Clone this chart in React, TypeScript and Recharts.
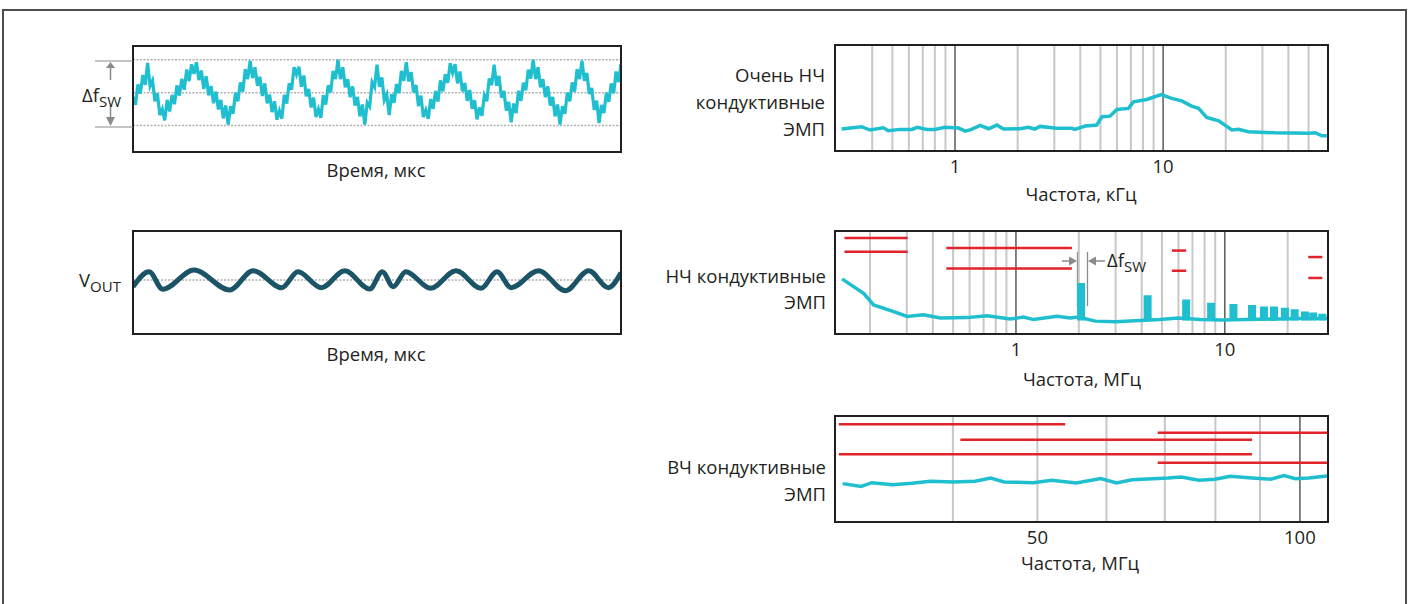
import React from "react";
import { ComposedChart, Line, XAxis, YAxis, ReferenceLine } from "recharts";

const FONT = "'Open Sans', sans-serif";
const INK = "#231f20";
const CYAN = "#1fbfcf";
const TEAL = "#1b5466";
const RED = "#e2232a";
const GRID = "#c8c8c8";
const GRID_DARK = "#5a5a5a";
const DIM = "#8a8a8a";
const FS = 18.5;

// top-left: switching frequency vs time (sampled every 0.5 time units)
const fswRipple = [
  -0.13, -0.37, 0.25, -0.03, 0.53, 0.24, 0.9, 0.2, 0.37, -0.26, -0.02, -0.68, -0.5, -0.84, -0.22, -0.57, -0.07, -0.35, 0.22, -0.09,
  0.42, 0.09, 0.7, 0.35, 0.86, 0.57, 0.92, 0.38, 0.67, 0.11, 0.5, -0.08, 0.2, -0.32, 0.03, -0.51, -0.22, -0.78, -0.39, -0.97,
  -0.41, -0.64, 0.0, -0.26, 0.31, 0.03, 0.71, 0.41, 0.97, 0.44, 0.77, 0.21, 0.48, -0.1, 0.28, -0.32, -0.06, -0.59, -0.26, -0.82,
  -0.55, -0.79, -0.07, -0.33, 0.28, 0.09, 0.77, 0.55, 0.79, 0.18, 0.52, -0.11, 0.11, -0.45, -0.15, -0.74, -0.5, -0.76, -0.08, -0.36,
  0.22, 0.01, 0.66, 0.41, 1.0, 0.41, 0.77, 0.16, 0.41, -0.14, 0.19, -0.39, -0.13, -0.72, -0.36, -0.97, -0.3, -0.42, 0.32, 0.17,
  0.85, 0.18, 0.46, -0.23, -0.06, -0.68, -0.05, -0.31, 0.26, -0.01, 0.66, 0.36, 0.92, 0.34, 0.62, 0.01, 0.23, -0.41, -0.09, -0.74,
  -0.53, -0.79, -0.2, -0.49, 0.05, -0.27, 0.37, 0.04, 0.56, 0.3, 0.89, 0.6, 0.86, 0.28, 0.64, 0.04, 0.29, -0.25, 0.08, -0.49,
  -0.23, -0.81, -0.45, -0.7, -0.08, -0.26, 0.43, 0.23, 0.85, 0.21, 0.51, -0.15, 0.05, -0.54, -0.28, -0.9, -0.33, -0.62, 0.05, -0.25,
  0.3, 0.07, 0.7, 0.43, 1.0, 0.41, 0.77, 0.16, 0.41, -0.14, 0.19, -0.39, -0.13, -0.72, -0.36, -0.97, -0.41, -0.64, 0.0, -0.26,
  0.31, 0.03, 0.71, 0.41, 0.97, 0.36, 0.6, -0.04, 0.14, -0.52, -0.24, -0.92, -0.37, -0.62, 0.0, -0.28, 0.28, -0.02, 0.64, 0.32,
  0.87,
];

// middle-left: output voltage ripple, extrema
const voutTimes = [0, 3.3, 6.1, 12.5, 19.8, 24.6, 30.5, 33.8, 38.6, 43.4, 48.5, 51.1, 53.3, 55.9, 61, 66.2, 71.3, 74.6, 77.5, 83.1, 88.6, 93.4, 97.4, 100];
const voutLevels = [-0.67, 0.83, -0.93, 1.0, -1.0, 0.93, -0.77, 0.83, -0.77, 0.93, -0.9, 0.83, -0.67, 0.83, -0.83, 0.93, -0.83, 0.83, -0.77, 0.93, -1.07, 0.93, -0.77, 0.73];

// top-right: very low frequency conducted EMI, kHz
const vlfFreqs = [0.285, 0.356, 0.39, 0.452, 0.478, 0.544, 0.62, 0.659, 0.731, 0.8, 0.895, 1.04, 1.12, 1.2, 1.32, 1.45, 1.59, 1.71, 2.05, 2.25, 2.42, 2.56, 3.08, 3.64, 3.77, 4.22, 4.8, 5.08, 5.56, 5.99, 6.81, 7.2, 8.35, 9.78, 11.0, 12.3, 13.7, 14.8, 16.2, 18.5, 21.4, 23.0, 25.7, 34.5, 50, 53.8, 58, 61.2];
const vlfLevels = [20.7, 22.9, 19.8, 21.9, 19.1, 20.4, 20.4, 22.3, 20.4, 20.4, 22.3, 21.6, 18.8, 20.4, 24.2, 21.0, 24.5, 20.7, 21.0, 22.3, 20.7, 23.2, 21.4, 21.4, 20.4, 23.5, 24.5, 32.3, 32.9, 39.2, 40.2, 46.4, 48.6, 53.3, 49.6, 47.3, 42.3, 40.2, 31.7, 28.5, 19.8, 20.4, 18.2, 17.2, 16.7, 17.2, 14.4, 14.4];
const vlfGrid = [0.4, 0.5, 0.6, 0.7, 0.8, 0.9, 2, 3, 4, 5, 6, 7, 8, 9, 20, 30, 40, 50];
const vlfDecades = [1, 10];

// middle-right: low frequency conducted EMI, MHz
const lfFreqs = [0.147, 0.187, 0.208, 0.26, 0.301, 0.361, 0.434, 0.583, 0.727, 0.939, 1.087, 1.214, 1.571, 1.819, 1.993, 2.395, 2.986, 3.933, 4.901, 5.977, 7.617, 9.707, 12.51, 17.41, 22.93, 30.87];
const lfLevels = [53.5, 39.2, 28.2, 21.8, 17.1, 18.7, 15.5, 15.9, 17.8, 14.5, 16.4, 14.0, 17.1, 15.5, 16.4, 12.5, 12.0, 13.0, 14.0, 15.5, 14.0, 13.5, 14.0, 14.5, 15.0, 15.0];
const lfSpikeFreqs = [2.05, 4.27, 6.53, 8.6, 11.0, 13.5, 15.4, 17.2, 19.4, 21.6, 24.2, 26.5, 29.3];
const lfSpikeTops = [49.4, 37.7, 33.5, 30.4, 29.2, 28.2, 26.6, 26.6, 25.6, 24.0, 21.8, 20.9, 19.7];
const lfSpikeBase = 13;
const lfLimitFrom = [0.151, 0.151, 0.464, 0.464, 5.58, 5.58, 25.1, 25.1];
const lfLimitTo = [0.303, 0.303, 1.853, 1.853, 6.53, 6.53, 29.3, 29.3];
const lfLimitLevel = [93.1, 79.8, 83.6, 63.6, 81.0, 61.4, 74.7, 54.4];
const lfGrid = [0.2, 0.3, 0.4, 0.5, 0.6, 0.7, 0.8, 0.9, 2, 3, 4, 5, 6, 7, 8, 9, 20];
const lfDecades = [1, 10];

// bottom-right: high frequency conducted EMI, MHz
const hfFreqs = [29.9, 31.4, 32.3, 34.1, 35.9, 37.7, 40.0, 42.4, 44.2, 45.8, 49.5, 51.9, 55.4, 59.1, 61.6, 64.2, 70.6, 73.1, 76.6, 79.9, 83.2, 87.3, 92.6, 95.9, 98.8, 102.4, 107.4];
const hfLevels = [36.2, 33.6, 37.1, 35.2, 36.5, 38.4, 37.7, 38.4, 41.5, 37.7, 37.1, 39.3, 36.8, 40.9, 36.8, 39.9, 41.5, 42.5, 39.3, 40.3, 43.1, 41.8, 40.3, 43.7, 40.9, 41.5, 43.4];
const hfLimitFrom = [29.6, 68.7, 40.8, 29.6, 68.7];
const hfLimitTo = [53.8, 108, 88.1, 88.1, 108];
const hfLimitLevel = [92.1, 84.3, 77.7, 63.8, 56.0];
const hfGrid = [40, 50, 60, 70, 80, 90];
const hfDecades = [100];

const fswData = fswRipple.map((v, i) => ({ x: i * 0.5, v }));
const voutData = voutTimes.map((x, i) => ({ x, v: voutLevels[i] }));
const vlfData = vlfFreqs.map((x, i) => ({ x, v: vlfLevels[i] }));
const lfData = lfFreqs.map((x, i) => ({ x, v: lfLevels[i] }));
const hfData = hfFreqs.map((x, i) => ({ x, v: hfLevels[i] }));
const spikeData = lfSpikeFreqs.flatMap((x, i) => [
  { x, v: lfSpikeBase },
  { x, v: lfSpikeTops[i] },
  { x, v: null },
]);

type PanelProps = {
  x: number;
  y: number;
  w: number;
  h: number;
  xDomain: [number, number];
  yDomain: [number, number];
  log?: boolean;
  ticks?: number[];
  children: React.ReactNode;
};

function Panel({ x, y, w, h, xDomain, yDomain, log, ticks, children }: PanelProps) {
  const axisH = ticks ? 34 : 0;
  return (
    <>
      <div style={{ position: "absolute", left: x, top: y }}>
        <ComposedChart width={w} height={h + axisH} margin={{ top: 0, right: 0, bottom: 0, left: 0 }}>
          <XAxis
            dataKey="x"
            type="number"
            scale={log ? "log" : "linear"}
            domain={xDomain}
            allowDataOverflow
            ticks={ticks ?? []}
            hide={!ticks}
            height={axisH}
            interval={0}
            tickLine={false}
            axisLine={false}
            tickMargin={3}
            tick={{ fill: INK, fontSize: FS, fontFamily: FONT }}
          />
          <YAxis type="number" domain={yDomain} allowDataOverflow hide />
          {children}
        </ComposedChart>
      </div>
      <div
        style={{
          position: "absolute",
          left: x - 1,
          top: y - 1,
          width: w + 2,
          height: h + 2,
          border: `2px solid ${INK}`,
          boxSizing: "border-box",
          pointerEvents: "none",
        }}
      />
    </>
  );
}

function gridLines(light: number[], dark: number[]) {
  return [
    ...light.map((g) => <ReferenceLine key={`g${g}`} x={g} stroke={GRID} strokeWidth={2} />),
    ...dark.map((g) => <ReferenceLine key={`d${g}`} x={g} stroke={GRID_DARK} strokeWidth={1.5} />),
  ];
}

function limitLines(from: number[], to: number[], level: number[]) {
  return from.map((a, i) => (
    <Line
      key={`lim${i}`}
      data={[
        { x: a, v: level[i] },
        { x: to[i], v: level[i] },
      ]}
      dataKey="v"
      stroke={RED}
      strokeWidth={2.5}
      dot={false}
      activeDot={false}
      isAnimationActive={false}
    />
  ));
}

function Txt({ x, y, align = "center", children }: { x: number; y: number; align?: "center" | "right" | "left"; children: React.ReactNode }) {
  const tx = align === "center" ? "-50%" : align === "right" ? "-100%" : "0";
  return (
    <div
      style={{
        position: "absolute",
        left: x,
        top: y,
        transform: `translate(${tx}, -50%)`,
        whiteSpace: "nowrap",
        fontSize: FS,
        lineHeight: 1,
        color: INK,
        fontFamily: FONT,
      }}
    >
      {children}
    </div>
  );
}

const Sub = ({ children }: { children: React.ReactNode }) => (
  <span style={{ fontSize: 15, position: "relative", top: 5 }}>{children}</span>
);

export default function App() {
  return (
    <div
      style={{
        position: "absolute",
        left: 0,
        top: 0,
        width: 1409,
        height: 604,
        overflow: "hidden",
        background: "#fff",
        fontFamily: FONT,
      }}
    >
      <div style={{ position: "absolute", left: 2, top: 9, width: 1405, height: 700, border: "2px solid #4d4d4d", boxSizing: "border-box" }} />

      {/* top-left: switching frequency */}
      <Panel x={133} y={46} w={488} h={106} xDomain={[0, 100]} yDomain={[-1.8, 1.415]}>
        <ReferenceLine y={1} stroke="#b0b0b0" strokeWidth={1.5} strokeDasharray="2 1.5" />
        <ReferenceLine y={0} stroke="#b0b0b0" strokeWidth={1.5} strokeDasharray="2 1.5" />
        <ReferenceLine y={-1} stroke="#b0b0b0" strokeWidth={1.5} strokeDasharray="2 1.5" />
        <Line data={fswData} dataKey="v" type="linear" stroke={CYAN} strokeWidth={3.2} dot={false} activeDot={false} isAnimationActive={false} />
      </Panel>
      <svg style={{ position: "absolute", left: 0, top: 0 }} width={1409} height={604}>
        <line x1={95} y1={61} x2={133} y2={61} stroke={DIM} strokeWidth={1.2} />
        <line x1={95} y1={127} x2={133} y2={127} stroke={DIM} strokeWidth={1.2} />
        <polygon points="110.5,62 106,68 115,68" fill={DIM} />
        <line x1={110.5} y1={67} x2={110.5} y2={80} stroke={DIM} strokeWidth={1.5} />
        <line x1={110.5} y1={106} x2={110.5} y2={118} stroke={DIM} strokeWidth={1.5} />
        <polygon points="110.5,126 106,117 115,117" fill={DIM} />

        {/* Δf annotation on the LF panel */}
        <line x1={1077.5} y1={252} x2={1077.5} y2={306} stroke={DIM} strokeWidth={1.3} />
        <line x1={1087.5} y1={252} x2={1087.5} y2={306} stroke={DIM} strokeWidth={1.3} />
        <line x1={1062} y1={261} x2={1071} y2={261} stroke={DIM} strokeWidth={1.5} />
        <polygon points="1077,261 1069,256.5 1069,265.5" fill={DIM} />
        <line x1={1095} y1={261} x2={1105} y2={261} stroke={DIM} strokeWidth={1.5} />
        <polygon points="1088,261 1096,256.5 1096,265.5" fill={DIM} />
      </svg>
      <Txt x={82} y={95} align="left">
        Δf<Sub>SW</Sub>
      </Txt>
      <Txt x={376} y={170}>Время, мкс</Txt>

      {/* middle-left: output voltage */}
      <Panel x={133} y={231} w={488} h={103} xDomain={[0, 100]} yDomain={[-5.4, 4.9]}>
        <ReferenceLine y={0} stroke="#b0b0b0" strokeWidth={1.5} strokeDasharray="2 1.5" />
        <Line data={voutData} dataKey="v" type="monotone" stroke={TEAL} strokeWidth={5} dot={false} activeDot={false} isAnimationActive={false} />
      </Panel>
      <Txt x={79} y={280} align="left">
        V<Sub>OUT</Sub>
      </Txt>
      <Txt x={376} y={354}>Время, мкс</Txt>

      {/* top-right: very low frequency EMI */}
      <Panel x={835} y={45} w={493} h={106} xDomain={[0.265, 62]} yDomain={[0, 100]} log ticks={[1, 10]}>
        {gridLines(vlfGrid, vlfDecades)}
        <Line data={vlfData} dataKey="v" type="linear" stroke={CYAN} strokeWidth={3.5} dot={false} activeDot={false} isAnimationActive={false} />
      </Panel>
      <Txt x={825} y={75} align="right">Очень НЧ</Txt>
      <Txt x={825} y={102} align="right">кондуктивные</Txt>
      <Txt x={825} y={129} align="right">ЭМП</Txt>
      <Txt x={1081} y={194}>Частота, кГц</Txt>

      {/* middle-right: low frequency EMI */}
      <Panel x={835} y={231} w={493} h={103} xDomain={[0.136, 31.2]} yDomain={[0, 100]} log ticks={[1, 10]}>
        {gridLines(lfGrid, lfDecades)}
        {limitLines(lfLimitFrom, lfLimitTo, lfLimitLevel)}
        <Line data={lfData} dataKey="v" type="linear" stroke={CYAN} strokeWidth={3.5} dot={false} activeDot={false} isAnimationActive={false} />
        <Line data={spikeData} dataKey="v" type="linear" stroke={CYAN} strokeWidth={8} strokeLinecap="butt" connectNulls={false} dot={false} activeDot={false} isAnimationActive={false} />
      </Panel>
      <Txt x={1107} y={260} align="left">
        Δf<Sub>SW</Sub>
      </Txt>
      <Txt x={826} y={276} align="right">НЧ кондуктивные</Txt>
      <Txt x={826} y={302} align="right">ЭМП</Txt>
      <Txt x={1082} y={379}>Частота, МГц</Txt>

      {/* bottom-right: high frequency EMI */}
      <Panel x={835} y={416} w={493} h={106} xDomain={[29.3, 107.7]} yDomain={[0, 100]} log ticks={[50, 100]}>
        {gridLines(hfGrid, hfDecades)}
        {limitLines(hfLimitFrom, hfLimitTo, hfLimitLevel)}
        <Line data={hfData} dataKey="v" type="linear" stroke={CYAN} strokeWidth={3.5} dot={false} activeDot={false} isAnimationActive={false} />
      </Panel>
      <Txt x={826} y={467} align="right">ВЧ кондуктивные</Txt>
      <Txt x={826} y={494} align="right">ЭМП</Txt>
      <Txt x={1080} y={563}>Частота, МГц</Txt>
    </div>
  );
}
